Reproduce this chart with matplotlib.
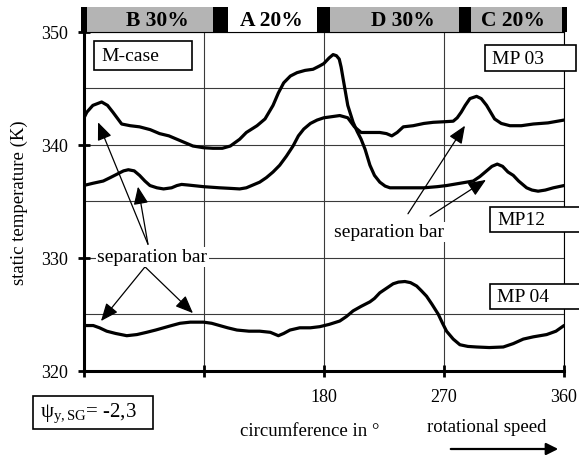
import matplotlib
matplotlib.use("Agg")
import matplotlib.pyplot as plt
from matplotlib.patches import Rectangle

""" DATA """
# upper curve on the left (peak 348 K near 187 deg), ends low on the right
mp_a_deg = [0, 2.5, 7, 13.6, 18, 22, 28.6, 35, 42, 50, 57, 64, 70, 76, 82, 90, 97, 104, 110,
            117, 122, 130, 136, 142, 146, 150, 155, 160, 166, 172, 177, 180, 184, 187, 189.5,
            191.6, 193, 194.6, 198, 202, 205, 208, 211, 214.6, 218, 222, 226, 229.6, 237,
            244.6, 255, 265, 272, 282, 292, 297, 302, 306, 310, 314, 318, 322, 326, 332, 336,
            340.6, 346, 352, 360]
mp_a_temp = [342.3, 342.9, 343.5, 343.8, 343.5, 342.9, 341.85, 341.7, 341.6, 341.35, 341.0,
             340.8, 340.5, 340.2, 339.9, 339.75, 339.7, 339.7, 339.9, 340.5, 341.1, 341.7,
             342.3, 343.5, 344.6, 345.5, 346.1, 346.4, 346.6, 346.7, 347.0, 347.2, 347.7,
             348.0, 347.9, 347.6, 346.9, 345.8, 343.5, 342.0, 341.2, 340.5, 339.6, 338.2,
             337.3, 336.7, 336.35, 336.2, 336.2, 336.2, 336.2, 336.3, 336.4, 336.6, 336.8,
             337.2, 337.7, 338.1, 338.3, 338.1, 337.6, 337.3, 336.8, 336.2, 336.0, 335.9,
             336.0, 336.2, 336.4]

# lower curve on the left, ends at 342 K on the right
mp_b_deg = [0, 7, 14.8, 20, 25, 30, 33.6, 38, 42, 46, 49.8, 55, 60, 66, 70, 73.5, 78, 82, 90,
            102, 110, 117, 122, 132, 137, 142, 147, 152, 157, 161, 165, 170, 175, 180, 186,
            192, 198, 203, 208, 215, 222, 227, 231, 235, 239.6, 247, 255, 262, 270, 277, 280,
            283, 286, 289.5, 294.5, 298, 302, 305, 308, 313, 319.5, 328, 337, 348, 360]
mp_b_temp = [336.4, 336.6, 336.8, 337.1, 337.4, 337.7, 337.8, 337.7, 337.3, 336.8, 336.4,
             336.2, 336.1, 336.2, 336.4, 336.5, 336.45, 336.4, 336.3, 336.2, 336.15, 336.1,
             336.2, 336.7, 337.1, 337.6, 338.2, 339.0, 339.9, 340.8, 341.4, 341.9, 342.2,
             342.4, 342.5, 342.6, 342.4, 341.6, 341.1, 341.1, 341.1, 341.0, 340.8, 341.1,
             341.6, 341.7, 341.9, 342.0, 342.05, 342.1, 342.4, 342.9, 343.5, 344.1, 344.3,
             344.1, 343.5, 342.9, 342.3, 341.9, 341.7, 341.7, 341.85, 341.95, 342.2]

# MP 04
mp04_deg = [0, 7.3, 12, 17.4, 24, 32.4, 40, 47.3, 54, 60, 66, 72.3, 80, 90, 96, 102, 108, 115,
            124, 132, 140, 146, 150, 154.7, 162, 170, 177, 184, 192, 197, 202, 208, 214.6, 218,
            222, 227, 232, 236, 240.8, 245, 249.6, 253, 257, 261, 265.8, 269, 272, 277, 282,
            288, 294.5, 304, 314.5, 322, 329.5, 337, 347, 354, 360]
mp04_temp = [324.0, 324.0, 323.8, 323.5, 323.3, 323.1, 323.2, 323.4, 323.6, 323.8, 324.0,
             324.2, 324.3, 324.3, 324.2, 324.0, 323.8, 323.6, 323.5, 323.5, 323.4, 323.1,
             323.3, 323.6, 323.8, 323.8, 323.9, 324.1, 324.4, 324.8, 325.3, 325.7, 326.1,
             326.4, 326.9, 327.3, 327.7, 327.85, 327.9, 327.8, 327.5, 327.1, 326.6, 325.9,
             325.0, 324.2, 323.5, 322.8, 322.3, 322.15, 322.1, 322.05, 322.1, 322.4, 322.8,
             323.0, 323.2, 323.5, 324.0]

# sector band on top
band_labels = ['B 30%', 'A 20%', 'D 30%', 'C 20%']
band_label_x = [55, 141, 239, 322]
band_start = [2.6, 108, 185, 290.5]
band_end = [97, 175, 281, 358.5]
band_gray = [True, False, True, True]
divider_start = [-2, 97, 175, 281, 358.5]
divider_end = [2.6, 108, 185, 290.5, 362.5]

x_ticks = [0, 90, 180, 270, 360]
x_tick_labels = ['', '', '180', '270', '360']
y_ticks = [320, 330, 340, 350]

""" STYLE """
plt.rcParams['font.family'] = ['Liberation Serif', 'DejaVu Serif']
plt.rcParams['mathtext.fontset'] = 'custom'
plt.rcParams['mathtext.rm'] = 'Liberation Serif'
plt.rcParams['mathtext.it'] = 'Liberation Serif:italic'

W, H = 579, 456
fig = plt.figure(figsize=(W / 100, H / 100), dpi=100)


def fx(px):
    return px / W


def fy(py):
    return 1 - py / H


ax = fig.add_axes([fx(83.5), fy(371.7), (564 - 83.5) / W, (371.7 - 33) / H])

lw_curve = 2.3
for xs, ys in [(mp_a_deg, mp_a_temp), (mp_b_deg, mp_b_temp), (mp04_deg, mp04_temp)]:
    ax.plot(xs, ys, color='black', lw=lw_curve, zorder=3,
            solid_joinstyle='round', solid_capstyle='round')

ax.set_xlim(0, 360)
ax.set_ylim(320, 350)
ax.set_xticks(x_ticks)
ax.set_xticklabels(x_tick_labels)
ax.set_yticks(y_ticks)
ax.set_yticks([325, 335, 345], minor=True)
ax.tick_params(axis='both', which='major', direction='inout', length=9, width=2,
               labelsize=13)
ax.tick_params(axis='y', which='major', pad=7)
ax.tick_params(axis='x', which='major', pad=8)
ax.tick_params(axis='both', which='minor', length=0)
ax.grid(True, which='both', color='#3a3a3a', lw=0.8)
ax.set_axisbelow(True)

for side in ['left', 'bottom']:
    ax.spines[side].set_linewidth(2.2)
for side in ['right', 'top']:
    ax.spines[side].set_linewidth(0.8)

# top band with sectors
trans = ax.get_xaxis_transform()
band_top = 1 + 25 / 338.7
for s, e, g in zip(band_start, band_end, band_gray):
    if g:
        ax.add_patch(Rectangle((s, 1), e - s, band_top - 1, transform=trans,
                               facecolor='#b4b4b4', edgecolor='none', clip_on=False))
for s, e in zip(divider_start, divider_end):
    ax.add_patch(Rectangle((s, 1), e - s, band_top - 1, transform=trans,
                           facecolor='black', edgecolor='none', clip_on=False))
for lab, xl in zip(band_labels, band_label_x):
    ax.text(xl, (1 + band_top) / 2, lab, transform=trans, ha='center', va='center',
            fontsize=15.5, fontweight='bold')

ax.set_ylabel('static temperature (K)', fontsize=13.5, labelpad=9)
fig.text(fx(310), fy(432), 'circumference in °', fontsize=13.5, ha='center', va='center')
fig.text(fx(487), fy(428), 'rotational speed', fontsize=13.5, ha='center', va='center')
fig.add_artist(matplotlib.patches.FancyArrowPatch((fx(448), fy(450)), (fx(561), fy(450)),
                                                  transform=fig.transFigure,
                                                  arrowstyle='-|>', mutation_scale=18,
                                                  color='black', lw=1.6))


def label_box(x0, y0, x1, y1, text, size=14):
    fig.add_artist(Rectangle((fx(x0), fy(y1)), (x1 - x0) / W, (y1 - y0) / H,
                             transform=fig.transFigure, facecolor='white',
                             edgecolor='black', lw=1.2, zorder=5))
    fig.text(fx(x0 + 7), fy((y0 + y1) / 2), text, fontsize=size, ha='left', va='center',
             zorder=6)


label_box(94, 42, 192, 71, 'M-case')
label_box(485, 46, 576, 72, 'MP 03')
label_box(490, 208, 582, 233, 'MP12')
label_box(490, 285, 582, 310, 'MP 04')
label_box(33, 397, 153, 430, r'ψ$_{\mathrm{y,SG}}$= -2,3', size=15)

# separation bar annotations
arrow_kw = dict(arrowstyle='-|>,head_length=0.6,head_width=0.25', color='black', lw=0.9,
                mutation_scale=18, shrinkA=0, shrinkB=0)
ax.annotate('', xy=(10.9, 342.0), xytext=(48.3, 331.2), arrowprops=arrow_kw)
ax.annotate('', xy=(40.8, 336.3), xytext=(48.3, 331.2), arrowprops=arrow_kw)
ax.annotate('', xy=(13.1, 324.4), xytext=(46.1, 329.2), arrowprops=arrow_kw)
ax.annotate('', xy=(82.0, 325.1), xytext=(46.1, 329.2), arrowprops=arrow_kw)
ax.annotate('', xy=(285.8, 341.7), xytext=(243.1, 333.9), arrowprops=arrow_kw)
ax.annotate('', xy=(301.5, 336.9), xytext=(259.6, 333.7), arrowprops=arrow_kw)

ax.text(51.5, 330.1, 'separation bar', fontsize=14, ha='center', va='center', zorder=4,
        bbox=dict(facecolor='white', edgecolor='none', pad=1))
ax.text(229, 332.3, 'separation bar', fontsize=14, ha='center', va='center', zorder=4,
        bbox=dict(facecolor='white', edgecolor='none', pad=1))

fig.savefig('out.png', dpi=100)
